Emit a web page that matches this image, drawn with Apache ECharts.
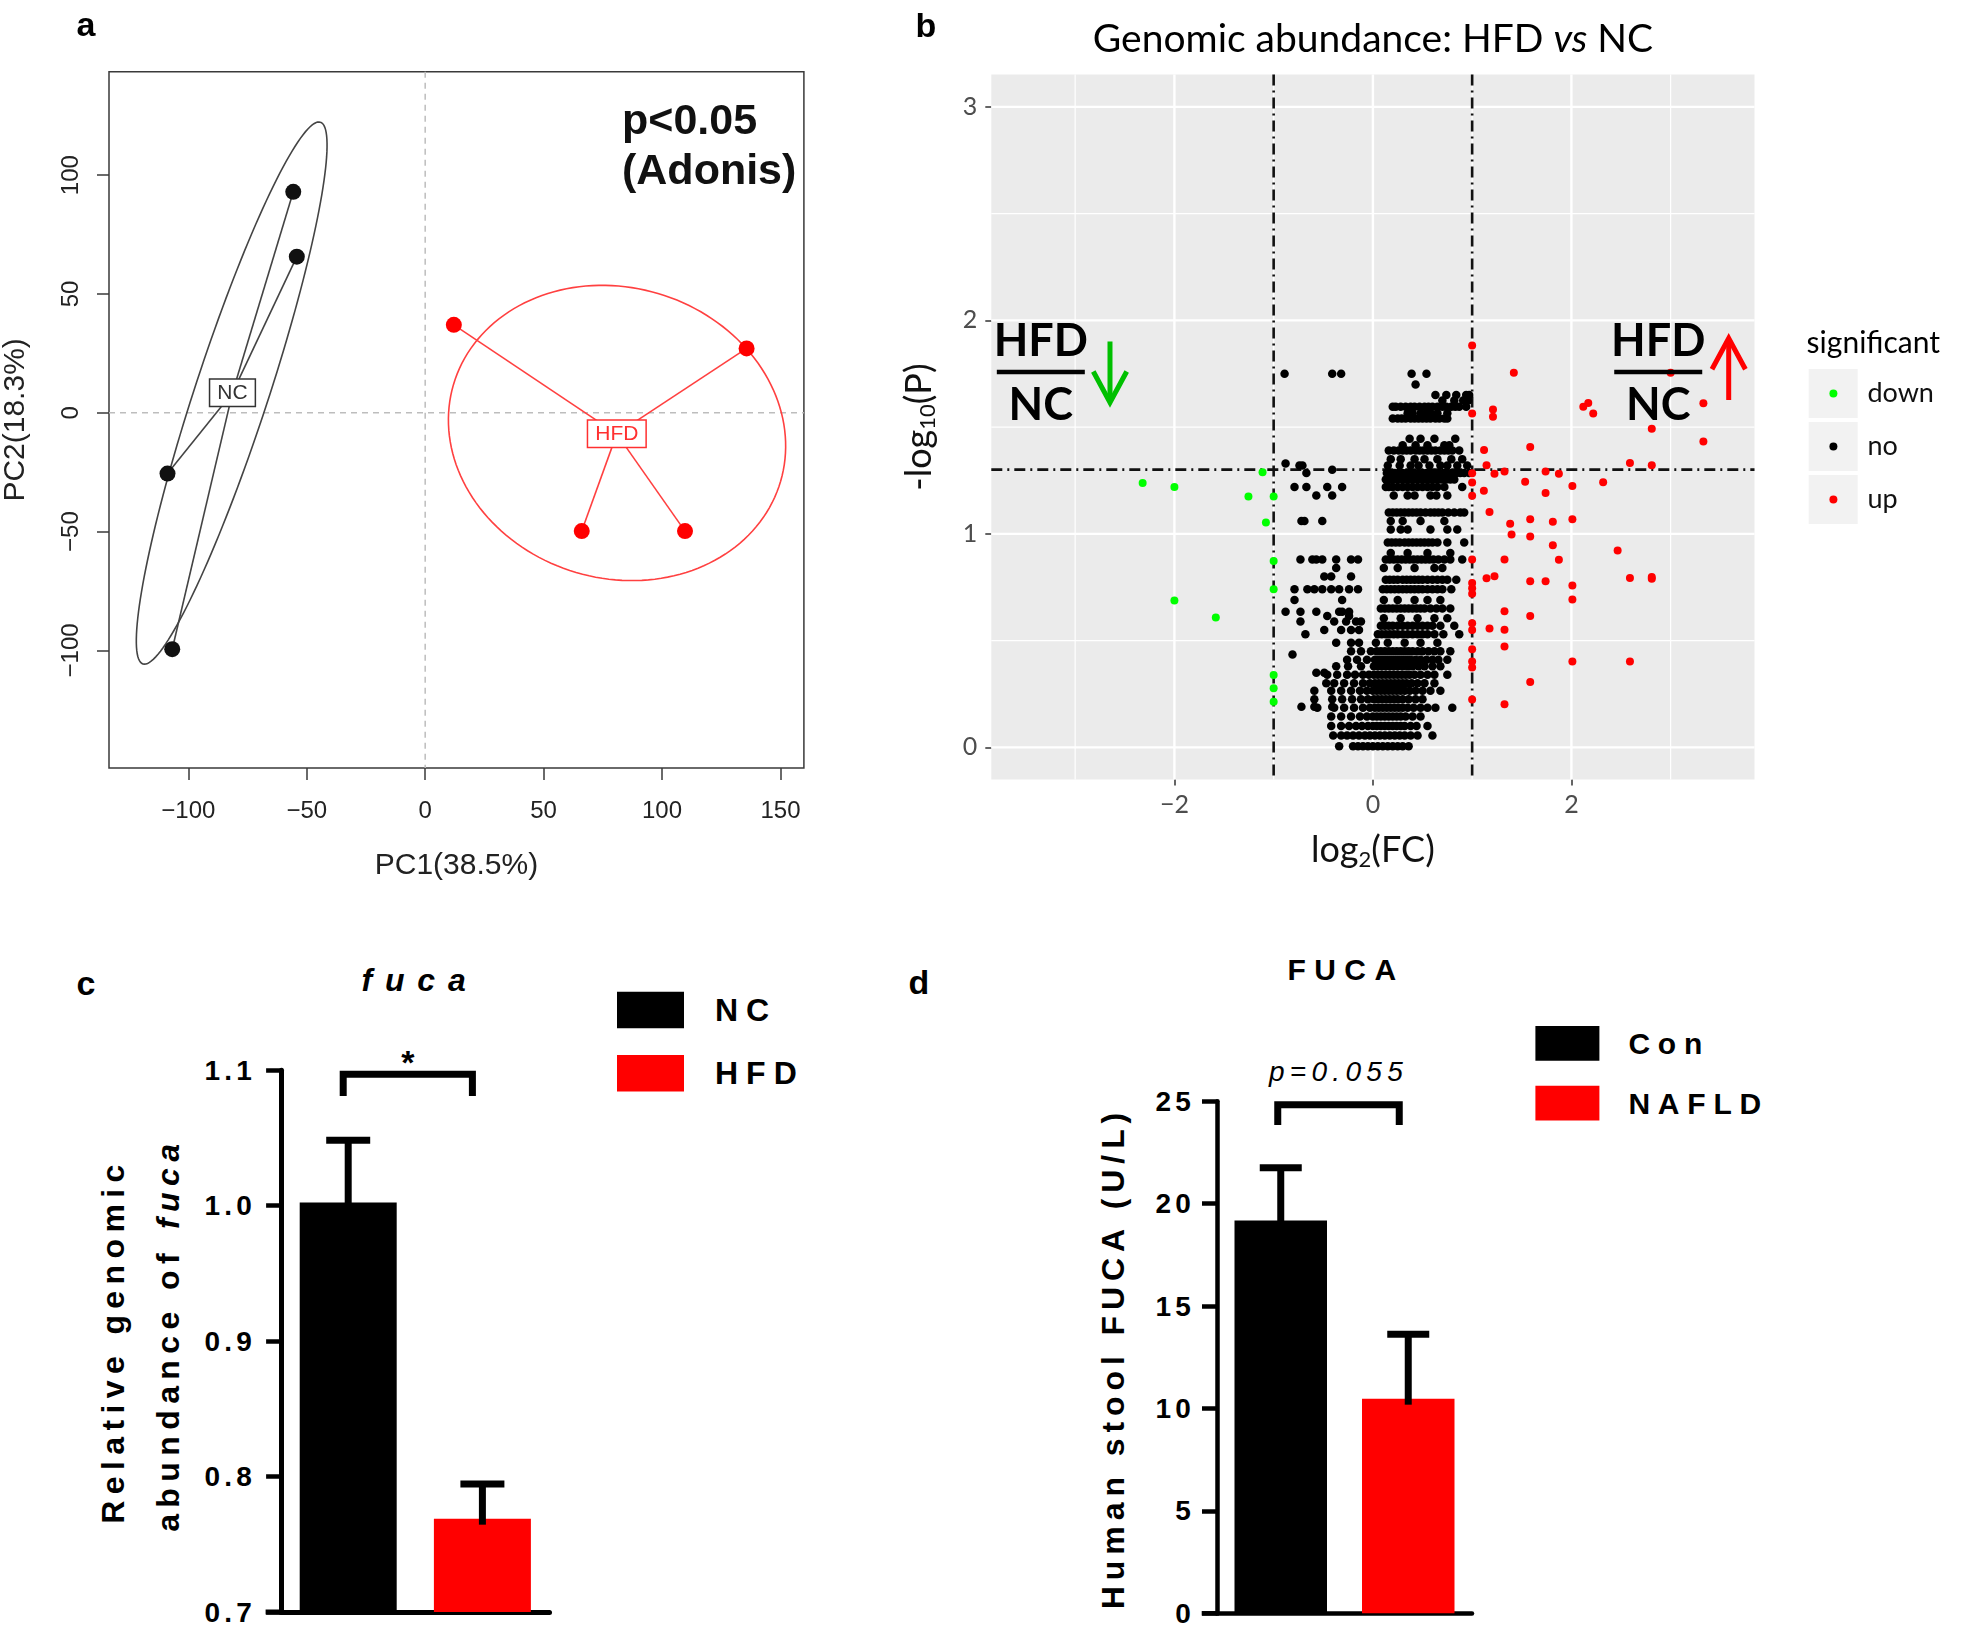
<!DOCTYPE html>
<html><head><meta charset="utf-8">
<script src="https://cdn.jsdelivr.net/npm/echarts@6/dist/echarts.min.js"></script>
<style>
html,body{margin:0;padding:0;background:#fff;}
#top{position:absolute;left:0;top:0;width:1961px;height:900px;}
#bottom{position:absolute;left:0;top:900px;width:1961px;height:737px;}
#bottom text[style*="lsLegC"],#bottom text[font-family*="lsLegC"]{letter-spacing:0.25em;}
#bottom text[style*="lsLegD"],#bottom text[font-family*="lsLegD"]{letter-spacing:0.26em;}
#bottom text[style*="lsTick"],#bottom text[font-family*="lsTick"]{letter-spacing:0.15em;}
#bottom text[style*="lsTitC"],#bottom text[font-family*="lsTitC"]{letter-spacing:0.4em;}
#bottom text[style*="lsTitD"],#bottom text[font-family*="lsTitD"]{letter-spacing:0.28em;}
#bottom text[style*="lsP"],#bottom text[font-family*="lsP"]{letter-spacing:0.19em;}
#bottom text[style*="lsYc"],#bottom text[font-family*="lsYc"]{letter-spacing:0.2em;}
#bottom text[style*="lsYd"],#bottom text[font-family*="lsYd"]{letter-spacing:0.185em;}
</style></head><body>
<div id="top"></div><div id="bottom"></div>
<script>
// ---------- Panel a : PCA ----------
const pcaNC = [[-55.7, 93.0], [-54.2, 65.7], [-108.8, -25.6], [-106.8, -99.5]];
const pcaHFD = [[12.1, 37.0], [135.7, 27.1], [66.1, -49.8], [109.7, -49.8]];
const pcaGroups = ['NC', 'HFD'];
// cx, cy, semi-major, semi-minor, angle(deg)
const ellipseNC = [-81.7, 8.3, 120, 15.5, 71.8];
const ellipseHFD = [81, -8.5, 72, 61.2, -16.4];
const pcaXTicks = [-100, -50, 0, 50, 100, 150];
const pcaYTicks = [-100, -50, 0, 50, 100];
const pcaRef = [0];

// ---------- Panel b : volcano ----------
const volXTicks = [-2, 0, 2];
const volYTicks = [0, 1, 2, 3];
const volXMinor = [-3, -1, 1, 3];
const volYMinor = [0.5, 1.5, 2.5];
const volFcCut = [-1, 1];
const volPCut = [1.301];
const downPts = [[-2.32,1.238],[-2.0,1.219],[-1.254,1.175],[-1.112,1.288],[-1.0,1.175],[-1.078,1.053],[-1.0,0.873],[-1.0,0.741],[-2.0,0.688],[-1.583,0.608],[-1.0,0.339],[-1.0,0.277],[-1.0,0.214]];
const upPts = [[1.0,1.882],[1.42,1.755],[3.0,1.755],[1.0,1.564],[1.21,1.582],[1.21,1.548],[2.12,1.595],[2.17,1.613],[2.22,1.564],[3.33,1.612],[2.81,1.492],[3.33,1.433],
[1.12,1.393],[1.585,1.407],[1.145,1.321],[2.59,1.332],[2.81,1.321],
[1.0,1.284],[1.225,1.281],[1.326,1.292],[1.74,1.292],[1.874,1.281],
[1.0,1.241],[1.534,1.244],[2.01,1.224],[2.32,1.242],[1.118,1.202],[1.0,1.179],[1.74,1.191],
[1.175,1.102],[1.383,1.047],[1.585,1.068],[1.813,1.057],[2.01,1.068],
[1.397,0.997],[1.585,0.988],[1.813,0.947],[2.466,0.922],
[1.0,0.880],[1.326,0.880],[1.874,0.879],
[1.145,0.792],[1.225,0.801],[1.0,0.77],[1.0,0.745],[1.0,0.72],[1.585,0.778],[1.74,0.778],[2.01,0.758],[2.59,0.793],[2.81,0.798],[2.81,0.79],
[2.01,0.693],[1.326,0.638],[1.585,0.615],
[1.0,0.581],[1.0,0.550],[1.175,0.557],[1.326,0.551],
[1.326,0.472],[1.0,0.460],[1.0,0.402],[1.0,0.374],[2.01,0.402],[2.59,0.402],
[1.585,0.306],[1.0,0.224],[1.326,0.202]];
// rows of non-significant genes: [ -log10(P), [log2FC values...] ]
const noRows = [
[1.75,[-0.89,-0.41,-0.32,0.39,0.54]],
[1.70,[0.43]],
[1.65,[0.63,0.74,0.84,0.94,0.97]],
[1.625,[0.70,0.82,0.91,0.96]],
[1.595,[0.20,0.23,0.28,0.33,0.38,0.42,0.47,0.52,0.56,0.60,0.65,0.70,0.74,0.79,0.83,0.87,0.94]],
[1.565,[0.35,0.40,0.48,0.54,0.58,0.65,0.75]],
[1.54,[0.20,0.25,0.29,0.33,0.38,0.42,0.46,0.50,0.54,0.58,0.63,0.67,0.72,0.75]],
[1.445,[0.37,0.48,0.62,0.83]],
[1.415,[0.30,0.43,0.55,0.72,0.77]],
[1.39,[0.16,0.21,0.26,0.30,0.34,0.38,0.43,0.47,0.51,0.55,0.59,0.63,0.68,0.72,0.76,0.80,0.87]],
[1.35,[0.18,0.28,0.42,0.52,0.65,0.79,0.90]],
[1.33,[-0.88]],
[1.32,[-0.74,-0.71,0.15,0.27,0.38,0.46,0.57,0.68,0.75,0.85,0.95]],
[1.30,[-0.41]],
[1.285,[-0.67,0.14,0.18,0.22,0.26,0.30,0.34,0.38,0.42,0.46,0.50,0.54,0.58,0.62,0.67,0.71,0.75,0.79,0.84,0.88,0.92,0.97]],
[1.255,[0.13,0.17,0.21,0.25,0.29,0.33,0.37,0.41,0.45,0.49,0.53,0.57,0.61,0.65,0.69,0.74,0.78,0.82]],
[1.22,[-0.79,-0.67,-0.46,-0.31,0.13,0.16,0.20,0.25,0.30,0.35,0.40,0.45,0.50,0.55,0.60,0.65,0.72,0.90]],
[1.18,[-0.57,-0.41,0.21,0.35,0.42,0.58,0.64,0.75]],
[1.10,[0.16,0.20,0.24,0.28,0.32,0.36,0.40,0.44,0.48,0.53,0.58,0.62,0.66,0.70,0.76,0.82,0.88,0.92]],
[1.06,[-0.72,-0.69,-0.51,0.18,0.30,0.48,0.72]],
[1.02,[0.18,0.28,0.35,0.58,0.75,0.85]],
[0.96,[0.15,0.19,0.23,0.27,0.32,0.36,0.40,0.44,0.48,0.52,0.56,0.60,0.65,0.75,0.92]],
[0.91,[0.18,0.35,0.55,0.78]],
[0.88,[-0.73,-0.61,-0.57,-0.51,-0.37,-0.22,-0.15,0.13,0.17,0.21,0.25,0.29,0.33,0.37,0.41,0.45,0.49,0.53,0.57,0.61,0.66,0.72,0.78,0.90]],
[0.84,[-0.37,0.11,0.25,0.42,0.62,0.70]],
[0.80,[-0.49,-0.42,-0.22]],
[0.785,[0.13,0.17,0.21,0.25,0.30,0.34,0.38,0.42,0.46,0.50,0.55,0.60,0.65,0.70,0.75,0.84]],
[0.74,[-0.79,-0.66,-0.59,-0.51,-0.42,-0.34,-0.24,-0.15,0.10,0.14,0.18,0.22,0.26,0.30,0.34,0.38,0.42,0.46,0.50,0.55,0.60,0.65,0.70,0.79]],
[0.69,[-0.79,-0.31,0.11,0.25,0.42,0.55,0.68]],
[0.65,[0.08,0.12,0.16,0.20,0.24,0.28,0.32,0.36,0.40,0.44,0.48,0.52,0.58,0.64,0.70,0.78]],
[0.635,[-0.88,-0.73,-0.57,-0.34,-0.31,-0.24]],
[0.615,[-0.46,-0.24]],
[0.605,[0.11,0.28,0.45,0.62,0.75]],
[0.59,[-0.73,-0.39,-0.27,-0.17,-0.12]],
[0.57,[0.08,0.12,0.16,0.20,0.25,0.30,0.35,0.40,0.45,0.50,0.55,0.60,0.68,0.82]],
[0.55,[-0.49,-0.32,-0.22,-0.14]],
[0.53,[-0.68,0.05,0.09,0.13,0.17,0.21,0.25,0.30,0.35,0.40,0.45,0.50,0.55,0.62,0.71,0.87]],
[0.49,[-0.37,-0.22,-0.14,0.03,0.15,0.32,0.48,0.65]],
[0.45,[-0.22,-0.12,-0.02,0.04,0.08,0.12,0.16,0.20,0.24,0.28,0.32,0.36,0.40,0.45,0.50,0.56,0.62,0.68,0.78]],
[0.435,[-0.81]],
[0.41,[-0.26,-0.16,-0.06,0.02,0.06,0.10,0.14,0.18,0.22,0.26,0.30,0.34,0.38,0.43,0.48,0.54,0.60,0.66,0.75]],
[0.38,[-0.37,-0.25,-0.12,0.01,0.05,0.09,0.13,0.17,0.21,0.25,0.30,0.35,0.40,0.46,0.52,0.60,0.68]],
[0.35,[-0.57,-0.49]],
[0.34,[-0.46,-0.36,-0.26,-0.18,-0.10,-0.04,0.01,0.05,0.09,0.13,0.17,0.21,0.25,0.29,0.33,0.37,0.42,0.48,0.55,0.62,0.75]],
[0.30,[-0.47,-0.39,-0.29,-0.19,-0.10,-0.03,0.02,0.06,0.10,0.14,0.18,0.22,0.26,0.30,0.34,0.39,0.45,0.52,0.62]],
[0.265,[-0.59,-0.42,-0.32,-0.22,-0.13,-0.06,0.00,0.04,0.08,0.12,0.16,0.20,0.24,0.28,0.32,0.37,0.43,0.50,0.58,0.68]],
[0.225,[-0.59,-0.41,-0.31,-0.21,-0.12,-0.05,0.01,0.05,0.09,0.13,0.17,0.21,0.25,0.30,0.36,0.43,0.50]],
[0.19,[-0.72,-0.59,-0.41]],
[0.185,[-0.56,-0.39,-0.29,-0.19,-0.10,-0.03,0.02,0.06,0.10,0.14,0.18,0.22,0.26,0.30,0.35,0.41,0.48,0.55,0.63,0.80]],
[0.145,[-0.42,-0.32,-0.22,-0.13,-0.06,0.00,0.04,0.08,0.12,0.16,0.20,0.24,0.28,0.33,0.40,0.48]],
[0.10,[-0.42,-0.32,-0.24,-0.17,-0.11,-0.05,0.00,0.04,0.08,0.12,0.16,0.20,0.24,0.28,0.32,0.38,0.44,0.55]],
[0.055,[-0.40,-0.32,-0.26,-0.20,-0.14,-0.08,-0.03,0.02,0.07,0.12,0.17,0.22,0.27,0.32,0.38,0.45,0.60]],
[0.005,[-0.34,-0.20,-0.15,-0.10,-0.05,0.00,0.05,0.10,0.15,0.20,0.25,0.30,0.36]]
];
const volLegend = ['down', 'no', 'up'];
const fracLabels = ['HFD', 'NC'];
const fracAnchors = [[-3.346, 1.758], [2.875, 1.758]];
const arrowAnchors = [[-2.649, 1.901, 1.615], [3.585, 1.627, 1.916]];

// ---------- Panel c ----------
const cCats = ['NC', 'HFD'];
const cMeans = [1.0023, 0.7689];
const cUpper = [1.0483, 0.7945];
const cBracket = [[0, 1, 1.097, 1.081]];
const cSig = ['*'];

// ---------- Panel d ----------
const dCats = ['Con', 'NAFLD'];
const dMeans = [19.18, 10.48];
const dUpper = [21.76, 13.62];
const dBracket = [[0, 1, 24.83, 23.84]];
const dSig = ['p=0.055'];

// =====================================================
const minus = v => String(v).replace('-', '\u2212');
const AR = "'Liberation Sans'";
const LATO = 'Lato';

function spanLine(styleFn) {
  return function (params, api) {
    const cs = params.coordSys;
    const v = api.value(0), o = api.value(1);
    let shape;
    if (o === 0) {
      const x = api.coord([v, 0])[0];
      shape = { x1: x, y1: cs.y, x2: x, y2: cs.y + cs.height };
    } else {
      const y = api.coord([0, v])[1];
      shape = { x1: cs.x, y1: y, x2: cs.x + cs.width, y2: y };
    }
    return { type: 'line', shape: shape, style: styleFn(api.value(2)), silent: true };
  };
}
function centroid(pts) {
  let sx = 0, sy = 0;
  pts.forEach(p => { sx += p[0]; sy += p[1]; });
  return [sx / pts.length, sy / pts.length];
}
const cenNC = centroid(pcaNC), cenHFD = centroid(pcaHFD);
const pcaColors = ['#111111', '#ff0000'];
const pcaLineColors = ['#444444', '#ff4040'];

const noPts = [];
noRows.forEach(r => r[1].forEach(x => noPts.push([x, r[0]])));

const volGridData = [];
volXTicks.forEach(v => volGridData.push([v, 0, 0]));
volXMinor.forEach(v => volGridData.push([v, 0, 1]));
volYTicks.forEach(v => volGridData.push([v, 1, 0]));
volYMinor.forEach(v => volGridData.push([v, 1, 1]));
const volCutData = [];
volFcCut.forEach(v => volCutData.push([v, 0, 0]));
volPCut.forEach(v => volCutData.push([v, 1, 0]));

const chartTop = echarts.init(document.getElementById('top'), null, { renderer: 'canvas', width: 1961, height: 900 });
chartTop.setOption({
  animation: false,
  backgroundColor: '#fff',
  grid: [
    { left: 107.2, top: 71.8, width: 696.7, height: 696.2, show: true, borderColor: '#3a3a3a', borderWidth: 1.5, backgroundColor: 'rgba(0,0,0,0)' },
    { left: 991.3, top: 74.6, width: 763.2, height: 705, show: true, borderWidth: 0, backgroundColor: '#ebebeb' }
  ],
  xAxis: [
    { gridIndex: 0, type: 'value', min: -133.5, max: 159.9,
      axisLine: { show: false, onZero: false }, splitLine: { show: false },
      axisTick: { show: true, customValues: pcaXTicks, length: 12, lineStyle: { color: '#3a3a3a', width: 1.5 } },
      axisLabel: { customValues: pcaXTicks, formatter: minus, fontSize: 24, fontFamily: AR, color: '#222', margin: 31 },
      name: 'PC1(38.5%)', nameLocation: 'middle', nameGap: 83,
      nameTextStyle: { fontSize: 30, fontFamily: AR, color: '#222' } },
    { gridIndex: 1, type: 'value', min: -3.845, max: 3.845,
      axisLine: { show: false, onZero: false }, splitLine: { show: false },
      axisTick: { show: true, customValues: volXTicks, length: 6, lineStyle: { color: '#333', width: 1.5 } },
      axisLabel: { customValues: volXTicks, formatter: minus, fontSize: 25, fontFamily: LATO, color: '#4d4d4d', margin: 13 },
      name: 'log{s|2}(FC)', nameLocation: 'middle', nameGap: 51,
      nameTextStyle: { fontSize: 36, fontFamily: LATO, color: '#111', lineHeight: 40,
        rich: { s: { fontSize: 22, fontFamily: LATO, color: '#111', lineHeight: 14, verticalAlign: 'bottom' } } } }
  ],
  yAxis: [
    { gridIndex: 0, type: 'value', min: -149.5, max: 143.5,
      axisLine: { show: false, onZero: false }, splitLine: { show: false },
      axisTick: { show: true, customValues: pcaYTicks, length: 12, lineStyle: { color: '#3a3a3a', width: 1.5 } },
      axisLabel: { customValues: pcaYTicks, rotate: 90, formatter: minus, fontSize: 24, fontFamily: AR, color: '#222', margin: 26 },
      name: 'PC2(18.3%)', nameLocation: 'middle', nameGap: 78, nameRotate: 90,
      nameTextStyle: { fontSize: 30, fontFamily: AR, color: '#222' } },
    { gridIndex: 1, type: 'value', min: -0.151, max: 3.151,
      axisLine: { show: false, onZero: false }, splitLine: { show: false },
      axisTick: { show: true, customValues: volYTicks, length: 6, lineStyle: { color: '#333', width: 1.5 } },
      axisLabel: { customValues: volYTicks, fontSize: 25, fontFamily: LATO, color: '#4d4d4d', margin: 14 },
      name: '-log{s|10}(P)', nameLocation: 'middle', nameGap: 52, nameRotate: 90,
      nameTextStyle: { fontSize: 36, fontFamily: LATO, color: '#111', lineHeight: 40,
        rich: { s: { fontSize: 22, fontFamily: LATO, color: '#111', lineHeight: 14, verticalAlign: 'bottom' } } } }
  ],
  legend: {
    data: volLegend, orient: 'vertical', left: 1829.4, top: 378.5, padding: 0,
    icon: 'circle', itemWidth: 8, itemHeight: 8, itemGap: 23, selectedMode: false,
    textStyle: { fontSize: 27, fontFamily: LATO, color: '#111', lineHeight: 30, padding: [0, 0, 0, 25] }
  },
  graphic: [
    { type: 'text', x: 86, y: 27, style: { text: 'a', font: "bold 34px 'Liberation Sans'", fill: '#000', align: 'center', verticalAlign: 'middle', textAlign: 'center', textVerticalAlign: 'middle' } },
    { type: 'text', x: 926, y: 28, style: { text: 'b', font: "bold 34px 'Liberation Sans'", fill: '#000', align: 'center', verticalAlign: 'middle', textAlign: 'center', textVerticalAlign: 'middle' } },
    { type: 'text', x: 622, y: 122, style: { text: 'p<0.05', font: "bold 43px 'Liberation Sans'", fill: '#111', align: 'left', verticalAlign: 'middle', textAlign: 'left', textVerticalAlign: 'middle' } },
    { type: 'text', x: 622, y: 172, style: { text: '(Adonis)', font: "bold 43px 'Liberation Sans'", fill: '#111', align: 'left', verticalAlign: 'middle', textAlign: 'left', textVerticalAlign: 'middle' } },
    { type: 'text', x: 1373, y: 39, style: { text: 'Genomic abundance: HFD {i|vs} NC', font: '39px Lato', fill: '#000', align: 'center', verticalAlign: 'middle', textAlign: 'center', textVerticalAlign: 'middle',
        rich: { i: { fontStyle: 'italic', fontSize: 39, fontFamily: LATO, fill: '#000', color: '#000' } } } },
    { type: 'text', x: 1806.6, y: 343, style: { text: 'significant', font: '30px Lato', fill: '#000', align: 'left', verticalAlign: 'middle', textAlign: 'left', textVerticalAlign: 'middle' } },
    { type: 'rect', z: -1, shape: { x: 1808.7, y: 369, width: 49, height: 49 }, style: { fill: '#f2f2f2' } },
    { type: 'rect', z: -1, shape: { x: 1808.7, y: 422, width: 49, height: 49 }, style: { fill: '#f2f2f2' } },
    { type: 'rect', z: -1, shape: { x: 1808.7, y: 475, width: 49, height: 49 }, style: { fill: '#f2f2f2' } }
  ],
  series: [
    { type: 'custom', xAxisIndex: 0, yAxisIndex: 0, z: 1, silent: true,
      data: [[pcaRef[0], 0, 0], [pcaRef[0], 1, 0]],
      renderItem: spanLine(() => ({ stroke: '#bdbdbd', lineWidth: 1.5, lineDash: [6, 5] })) },
    { type: 'custom', xAxisIndex: 0, yAxisIndex: 0, z: 2, silent: true,
      data: [ellipseNC, ellipseHFD],
      renderItem: function (params, api) {
        const cx = api.value(0), cy = api.value(1), a = api.value(2), b = api.value(3), t = api.value(4) * Math.PI / 180;
        const pts = [];
        for (let k = 0; k <= 160; k++) {
          const s = k / 160 * 2 * Math.PI;
          const u = a * Math.cos(s), v = b * Math.sin(s);
          pts.push(api.coord([cx + u * Math.cos(t) - v * Math.sin(t), cy + u * Math.sin(t) + v * Math.cos(t)]));
        }
        return { type: 'polyline', shape: { points: pts }, style: { stroke: pcaLineColors[params.dataIndex], fill: 'none', lineWidth: 1.6 } };
      } },
    { type: 'custom', xAxisIndex: 0, yAxisIndex: 0, z: 2, silent: true,
      data: pcaNC.map(p => [p[0], p[1], cenNC[0], cenNC[1], 0]).concat(pcaHFD.map(p => [p[0], p[1], cenHFD[0], cenHFD[1], 1])),
      renderItem: function (params, api) {
        const p = api.coord([api.value(0), api.value(1)]);
        const c = api.coord([api.value(2), api.value(3)]);
        return { type: 'line', shape: { x1: p[0], y1: p[1], x2: c[0], y2: c[1] }, style: { stroke: pcaLineColors[api.value(4)], lineWidth: 1.6 } };
      } },
    { type: 'scatter', name: 'NC', xAxisIndex: 0, yAxisIndex: 0, z: 3, symbolSize: 16, data: pcaNC, itemStyle: { color: pcaColors[0], opacity: 1 } },
    { type: 'scatter', name: 'HFD', xAxisIndex: 0, yAxisIndex: 0, z: 3, symbolSize: 16, data: pcaHFD, itemStyle: { color: pcaColors[1], opacity: 1 } },
    { type: 'custom', xAxisIndex: 0, yAxisIndex: 0, z: 4, silent: true,
      data: [[cenNC[0], cenNC[1]], [cenHFD[0], cenHFD[1]]],
      renderItem: function (params, api) {
        const p = api.coord([api.value(0), api.value(1)]);
        const col = params.dataIndex === 0 ? '#333333' : '#ff3030';
        return { type: 'text', x: p[0], y: p[1], style: { text: pcaGroups[params.dataIndex], font: "21px 'Liberation Sans'", fill: col,
          align: 'center', verticalAlign: 'middle', backgroundColor: '#fff', borderColor: col, borderWidth: 1.5, padding: [3, 7], lineHeight: 20 } };
      } },
    { type: 'custom', xAxisIndex: 1, yAxisIndex: 1, z: 1, silent: true, data: volGridData,
      renderItem: spanLine(k => ({ stroke: '#ffffff', lineWidth: k === 0 ? 2.4 : 1.2 })) },
    { type: 'custom', xAxisIndex: 1, yAxisIndex: 1, z: 2, silent: true, data: volCutData,
      renderItem: spanLine(() => ({ stroke: '#111111', lineWidth: 2.6, lineDash: [11, 5, 2, 5] })) },
    { type: 'scatter', name: 'no', xAxisIndex: 1, yAxisIndex: 1, z: 3, symbolSize: 8.5, data: noPts, itemStyle: { color: '#000', opacity: 1 } },
    { type: 'scatter', name: 'down', xAxisIndex: 1, yAxisIndex: 1, z: 3, symbolSize: 8, data: downPts, itemStyle: { color: '#00ff00', opacity: 1 } },
    { type: 'scatter', name: 'up', xAxisIndex: 1, yAxisIndex: 1, z: 3, symbolSize: 8, data: upPts, itemStyle: { color: '#ff0000', opacity: 1 } },
    { type: 'custom', xAxisIndex: 1, yAxisIndex: 1, z: 4, silent: true, data: fracAnchors,
      renderItem: function (params, api) {
        const p = api.coord([api.value(0), api.value(1)]);
        return { type: 'group', children: [
          { type: 'line', shape: { x1: p[0] - 44, y1: p[1], x2: p[0] + 44, y2: p[1] }, style: { stroke: '#000', lineWidth: 4.5 } },
          { type: 'text', x: p[0], y: p[1] - 31, style: { text: fracLabels[0], font: 'bold 45px Lato', fill: '#000', align: 'center', verticalAlign: 'middle' } },
          { type: 'text', x: p[0], y: p[1] + 33, style: { text: fracLabels[1], font: 'bold 45px Lato', fill: '#000', align: 'center', verticalAlign: 'middle' } }
        ] };
      } },
    { type: 'custom', xAxisIndex: 1, yAxisIndex: 1, z: 4, silent: true, data: arrowAnchors,
      renderItem: function (params, api) {
        const x = api.value(0);
        const a = api.coord([x, api.value(1)]), b = api.coord([x, api.value(2)]);
        const dir = b[1] > a[1] ? 1 : -1;
        const c = params.dataIndex === 0 ? '#00c000' : '#ff0000';
        return { type: 'group', children: [
          { type: 'line', shape: { x1: a[0], y1: a[1], x2: b[0], y2: b[1] - dir * 2 }, style: { stroke: c, lineWidth: 5 } },
          { type: 'polyline', shape: { points: [[b[0] - 16.7, b[1] - dir * 31], [b[0], b[1]], [b[0] + 16.7, b[1] - dir * 31]] }, style: { stroke: c, fill: 'none', lineWidth: 5, lineJoin: 'miter' } }
        ] };
      } }
  ]
});

// =====================================================
const NF = "'Liberation Sans'";
const F = fam => NF + ", " + fam;
function errRender(width) {
  return function (params, api) {
    const m = api.coord([api.value(0), api.value(1)]);
    const u = api.coord([api.value(0), api.value(2)]);
    return { type: 'group', children: [
      { type: 'line', shape: { x1: m[0], y1: m[1] + 6, x2: u[0], y2: u[1] }, style: { stroke: '#000', lineWidth: 7 } },
      { type: 'line', shape: { x1: u[0] - width / 2, y1: u[1], x2: u[0] + width / 2, y2: u[1] }, style: { stroke: '#000', lineWidth: 7 } }
    ] };
  };
}
function bracketRender(labels, offs, textGap, font) {
  return function (params, api) {
    const a = api.coord([api.value(0), api.value(2)]);
    const b = api.coord([api.value(1), api.value(2)]);
    const leg = api.coord([api.value(0), api.value(3)])[1];
    const x1 = a[0] + offs[0], x2 = b[0] + offs[1];
    return { type: 'group', children: [
      { type: 'polyline', shape: { points: [[x1, leg], [x1, a[1]], [x2, a[1]], [x2, leg]] }, style: { stroke: '#000', fill: 'none', lineWidth: 7, lineJoin: 'miter' } },
      { type: 'text', x: (x1 + x2) / 2, y: a[1] - textGap, style: { text: labels[params.dataIndex], font: font, fill: '#000', align: 'center', verticalAlign: 'middle' } }
    ] };
  };
}
const chartBot = echarts.init(document.getElementById('bottom'), null, { renderer: 'svg', width: 1961, height: 737 });
chartBot.setOption({
  animation: false,
  backgroundColor: '#fff',
  grid: [
    { left: 281.1, top: 170.2, width: 268.4, height: 541.8 },
    { left: 1217, top: 201.3, width: 255, height: 512 }
  ],
  xAxis: [
    { gridIndex: 0, type: 'category', data: cCats, axisLine: { lineStyle: { color: '#000', width: 5 } }, axisTick: { show: false }, axisLabel: { show: false } },
    { gridIndex: 1, type: 'category', data: dCats, axisLine: { lineStyle: { color: '#000', width: 4.5 } }, axisTick: { show: false }, axisLabel: { show: false } }
  ],
  yAxis: [
    { gridIndex: 0, type: 'value', min: 0.7, max: 1.1, interval: 0.1, splitLine: { show: false },
      axisLine: { show: true, lineStyle: { color: '#000', width: 5 } },
      axisTick: { show: true, length: 15, lineStyle: { color: '#000', width: 4.5 } },
      axisLabel: { fontSize: 28, fontWeight: 'bold', fontFamily: F('lsTick'), color: '#000', margin: 25, formatter: v => v.toFixed(1) } },
    { gridIndex: 1, type: 'value', min: 0, max: 25, interval: 5, splitLine: { show: false },
      axisLine: { show: true, lineStyle: { color: '#000', width: 4.5 } },
      axisTick: { show: true, length: 15, lineStyle: { color: '#000', width: 4.5 } },
      axisLabel: { fontSize: 28, fontWeight: 'bold', fontFamily: F('lsTick'), color: '#000', margin: 22 } }
  ],
  legend: [
    { data: cCats, orient: 'vertical', left: 617, top: 91.7, padding: 0, icon: 'rect', itemWidth: 67, itemHeight: 36.6, itemGap: 26.7, selectedMode: false,
      textStyle: { fontSize: 32, fontWeight: 'bold', fontFamily: F('lsLegC'), color: '#000', padding: [0, 0, 0, 26] } },
    { data: dCats, orient: 'vertical', left: 1535.4, top: 126, padding: 0, icon: 'rect', itemWidth: 64, itemHeight: 34.7, itemGap: 25, selectedMode: false,
      textStyle: { fontSize: 30, fontWeight: 'bold', fontFamily: F('lsLegD'), color: '#000', padding: [0, 0, 0, 24] } }
  ],
  graphic: [
    { type: 'text', x: 86, y: 83, style: { text: 'c', font: "bold 34px 'Liberation Sans'", fill: '#000', align: 'center', verticalAlign: 'middle', textAlign: 'center', textVerticalAlign: 'middle' } },
    { type: 'text', x: 919, y: 82, style: { text: 'd', font: "bold 34px 'Liberation Sans'", fill: '#000', align: 'center', verticalAlign: 'middle', textAlign: 'center', textVerticalAlign: 'middle' } },
    { type: 'text', x: 420, y: 80, style: { text: 'fuca', font: "italic bold 32px " + F('lsTitC'), fill: '#000', align: 'center', verticalAlign: 'middle', textAlign: 'center', textVerticalAlign: 'middle' } },
    { type: 'text', x: 1346, y: 69, style: { text: 'FUCA', font: "bold 30px " + F('lsTitD'), fill: '#000', align: 'center', verticalAlign: 'middle', textAlign: 'center', textVerticalAlign: 'middle' } },
    { type: 'text', x: 113, y: 441, rotation: Math.PI / 2, style: { text: 'Relative genomic', font: "bold 32px " + F('lsYc'), fill: '#000', align: 'center', verticalAlign: 'middle', textAlign: 'center', textVerticalAlign: 'middle' } },
    { type: 'text', x: 168, y: 347, rotation: Math.PI / 2, style: { text: 'abundance of', font: "bold 32px " + F('lsYc'), fill: '#000', align: 'right', verticalAlign: 'middle', textAlign: 'right', textVerticalAlign: 'middle' } },
    { type: 'text', x: 168, y: 329, rotation: Math.PI / 2, style: { text: 'fuca', font: "italic bold 32px " + F('lsYc'), fill: '#000', align: 'left', verticalAlign: 'middle', textAlign: 'left', textVerticalAlign: 'middle' } },
    { type: 'text', x: 1112.8, y: 458, rotation: Math.PI / 2, style: { text: 'Human stool FUCA (U/L)', font: "bold 32px " + F('lsYd'), fill: '#000', align: 'center', verticalAlign: 'middle', textAlign: 'center', textVerticalAlign: 'middle' } },
    { type: 'line', shape: { x1: 265.6, y1: 712, x2: 283, y2: 712 }, style: { stroke: '#000', lineWidth: 5 } },
    { type: 'line', shape: { x1: 1201.7, y1: 713.3, x2: 1219, y2: 713.3 }, style: { stroke: '#000', lineWidth: 4.5 } }
  ],
  series: [
    { type: 'bar', name: cCats[0], xAxisIndex: 0, yAxisIndex: 0, barWidth: 97, barGap: '-100%', data: [cMeans[0], '-'], itemStyle: { color: '#000' } },
    { type: 'bar', name: cCats[1], xAxisIndex: 0, yAxisIndex: 0, barWidth: 97, barGap: '-100%', data: ['-', cMeans[1]], itemStyle: { color: '#ff0000' } },
    { type: 'custom', xAxisIndex: 0, yAxisIndex: 0, z: 5, data: cCats.map((c, i) => [i, cMeans[i], cUpper[i]]), renderItem: errRender(44) },
    { type: 'custom', xAxisIndex: 0, yAxisIndex: 0, z: 5, data: cBracket, renderItem: bracketRender(cSig, [-5, -10], 12, "bold 34px 'Liberation Sans', lsStar") },
    { type: 'bar', name: dCats[0], xAxisIndex: 1, yAxisIndex: 1, barWidth: 92.5, barGap: '-100%', data: [dMeans[0], '-'], itemStyle: { color: '#000' } },
    { type: 'bar', name: dCats[1], xAxisIndex: 1, yAxisIndex: 1, barWidth: 92.5, barGap: '-100%', data: ['-', dMeans[1]], itemStyle: { color: '#ff0000' } },
    { type: 'custom', xAxisIndex: 1, yAxisIndex: 1, z: 5, data: dCats.map((c, i) => [i, dMeans[i], dUpper[i]]), renderItem: errRender(42) },
    { type: 'custom', xAxisIndex: 1, yAxisIndex: 1, z: 5, data: dBracket, renderItem: bracketRender(dSig, [-3, -9], 33, "italic 28px " + F('lsP')) }
  ]
});
</script>
</body></html>
